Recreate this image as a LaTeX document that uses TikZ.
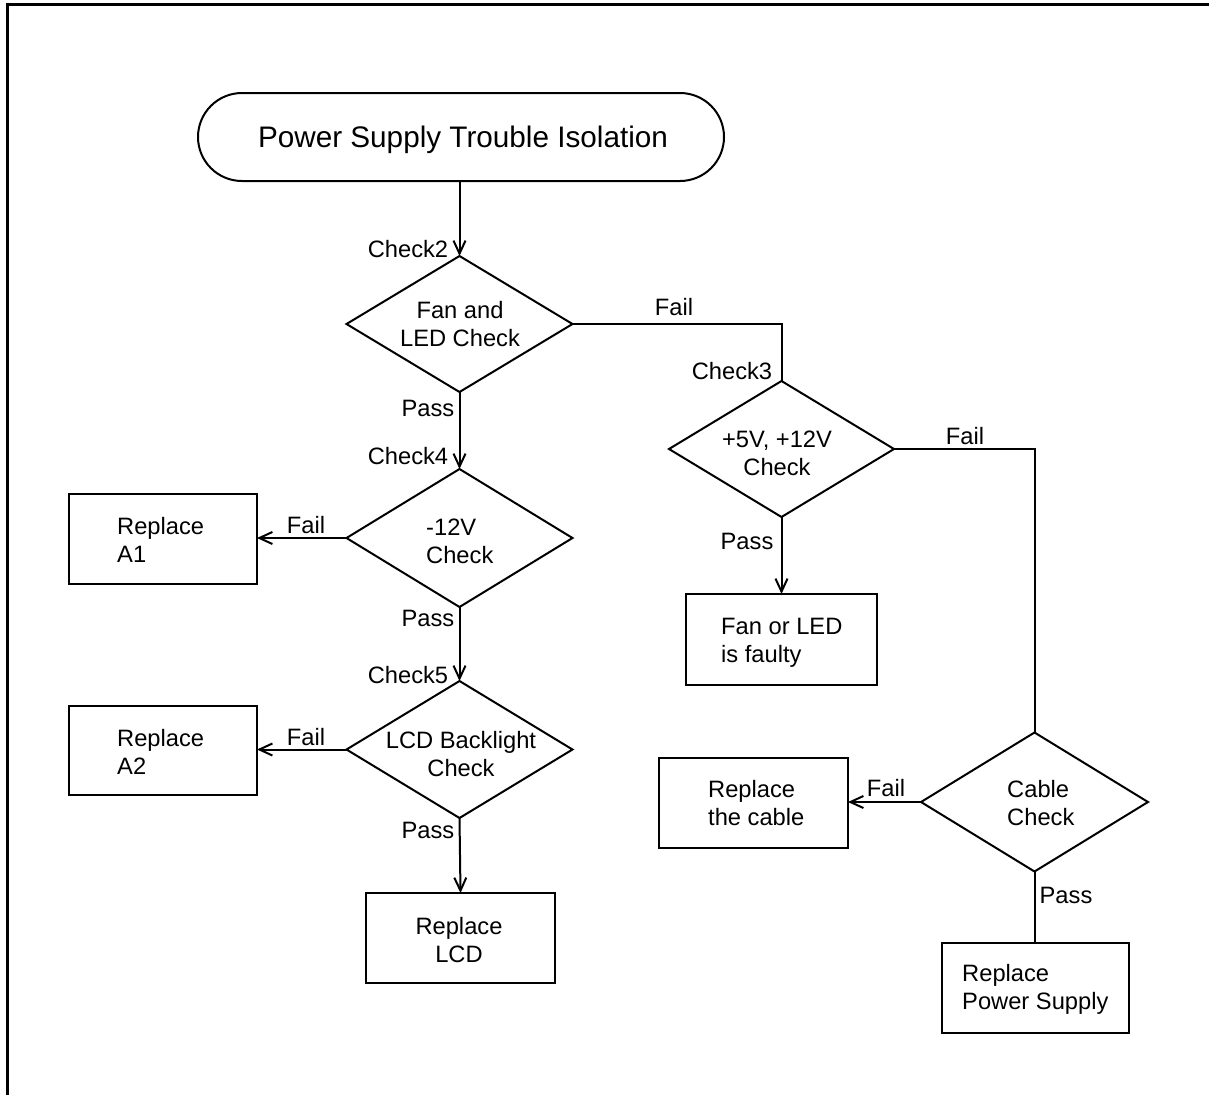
\documentclass[tikz,border=0pt]{standalone}
\usepackage{fontspec}
\setmainfont{Liberation Sans}
\usetikzlibrary{shapes.geometric,shapes.misc,arrows.meta}
\begin{document}
\begin{tikzpicture}[x=1pt,y=-1pt,
  txt/.style={inner sep=0pt, font=\fontsize{23.7pt}{28pt}\selectfont},
  dia/.style={diamond, draw, line width=2pt, inner sep=0pt, outer sep=0pt},
  box/.style={rectangle, draw, line width=2pt, inner sep=0pt, outer sep=0pt},
  conn/.style={line width=2pt},
  arr/.style={line width=2pt, -{Straight Barb[length=13pt,width=12pt,line width=2pt]}}
]
\useasboundingbox (0,0) rectangle (1209,1095);
% page frame
\draw[line width=3pt] (7,1095) -- (7,4.5) -- (1209,4.5);

% terminator
\node[rounded rectangle, draw, line width=2pt, minimum width=526pt, minimum height=88pt, inner sep=0pt, outer sep=0pt] (title) at (461,137) {};
\node[txt, font=\fontsize{29.7pt}{34pt}\selectfont] (titlet) at (463,140) {Power Supply Trouble Isolation};

% diamonds
\node[dia, minimum width=226pt, minimum height=136pt] (fan) at (459.5,324) {};
\node[txt, align=center] (fant) at (460,324) {Fan and\\LED Check};

\node[dia, minimum width=226pt, minimum height=138pt] (m12) at (459.5,538) {};
\node[txt, align=left, anchor=west] (m12t) at (426,541) {-12V\\Check};

\node[dia, minimum width=226pt, minimum height=137pt] (lcd) at (459.5,749.5) {};
\node[txt, align=center] (lcdt) at (461,754) {LCD Backlight\\Check};

\node[dia, minimum width=225pt, minimum height=136pt] (p5) at (781.5,449) {};
\node[txt, align=center] (p5t) at (777,453.5) {+5V, +12V\\Check};

\node[dia, minimum width=227pt, minimum height=139pt] (cable) at (1034.5,802) {};
\node[txt, align=left, anchor=west] (cablet) at (1007,803.5) {Cable\\Check};

% boxes
\node[box, minimum width=188pt, minimum height=90pt] (a1) at (163,539) {};
\node[txt, align=left, anchor=west] (a1t) at (117,540) {Replace\\A1};

\node[box, minimum width=188pt, minimum height=89pt] (a2) at (163,750.5) {};
\node[txt, align=left, anchor=west] (a2t) at (117,752) {Replace\\A2};

\node[box, minimum width=189pt, minimum height=90pt] (lcdbox) at (460.5,938) {};
\node[txt, align=center] (lcdboxt) at (459,940) {Replace\\LCD};

\node[box, minimum width=191pt, minimum height=91pt] (fault) at (781.5,639.5) {};
\node[txt, align=left, anchor=west] (faultt) at (721,643) {Fan or LED\\is faulty};

\node[box, minimum width=189pt, minimum height=90pt] (cablebox) at (753.5,803) {};
\node[txt, align=left, anchor=west] (cableboxt) at (708,803.5) {Replace\\the cable};

\node[box, minimum width=187pt, minimum height=90pt] (psu) at (1035.5,988) {};
\node[txt, align=left, anchor=west] (psut) at (962,989) {Replace\\Power Supply};

% connectors
\draw[arr] (fan.north |- title.south) -- (fan.north);
\draw[arr] (fan.south) -- (m12.north);
\draw[arr] (m12.south) -- (lcd.north);
\draw[arr] (lcd.south) -- (lcdbox.north);
\draw[arr] (m12.west) -- (m12.west -| a1.east);
\draw[arr] (lcd.west) -- (lcd.west -| a2.east);
\draw[conn] (fan.east) -| (p5.north);
\draw[arr] (p5.south) -- (p5.south |- fault.north);
\draw[conn] (p5.east) -| (cable.north);
\draw[arr] (cable.west) -- (cable.west -| cablebox.east);
\draw[conn] (cable.south) -- (cable.south |- psu.north);

% labels
\node[txt] (l1) at (408,249) {Check2};
\node[txt] (l2) at (674,307) {Fail};
\node[txt] (l3) at (732,371) {Check3};
\node[txt] (l4) at (428,408) {Pass};
\node[txt] (l5) at (408,456) {Check4};
\node[txt] (l6) at (306,525) {Fail};
\node[txt] (l7) at (428,618) {Pass};
\node[txt] (l8) at (408,675) {Check5};
\node[txt] (l9) at (306,737) {Fail};
\node[txt] (l10) at (428,830) {Pass};
\node[txt] (l11) at (965,436) {Fail};
\node[txt] (l12) at (747,541) {Pass};
\node[txt] (l13) at (886,788) {Fail};
\node[txt] (l14) at (1066,895) {Pass};
\end{tikzpicture}
\end{document}
